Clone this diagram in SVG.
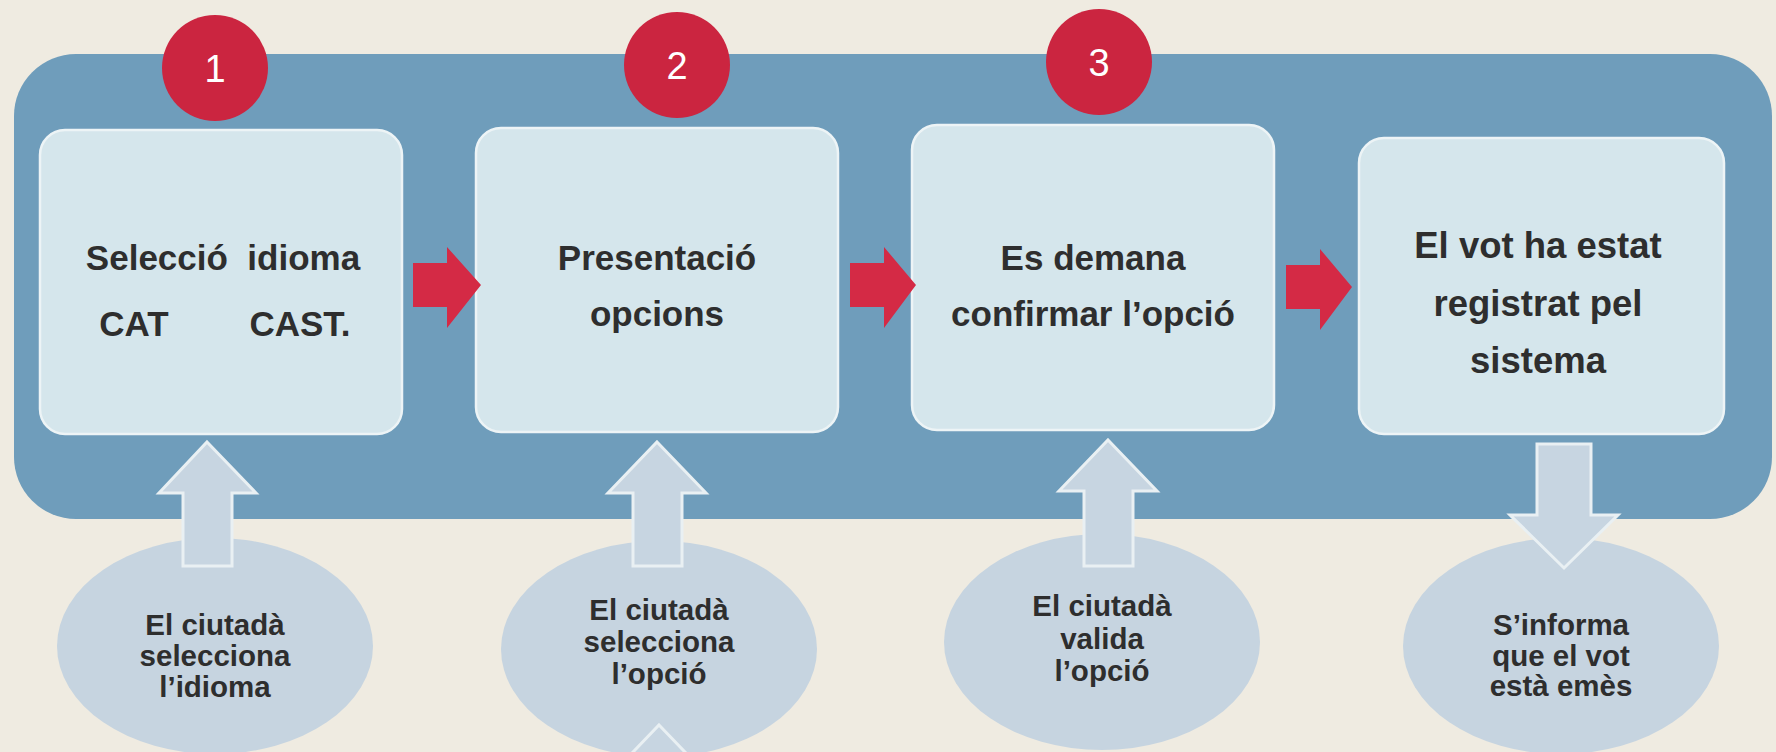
<svg xmlns="http://www.w3.org/2000/svg" width="1776" height="752" viewBox="0 0 1776 752">
<style>
.box{fill:#d5e6ec;stroke:#edf4f6;stroke-width:2.5}
.num{font-family:"Liberation Sans",Arial,sans-serif;font-size:38px;fill:#ffffff;text-anchor:middle}
.bt{font-family:"Liberation Sans",Arial,sans-serif;font-weight:bold;font-size:35px;fill:#2e2e2e;text-anchor:middle}
.bt4{font-size:36.5px}
.et{font-family:"Liberation Sans",Arial,sans-serif;font-weight:bold;font-size:29.5px;fill:#2e2e2e;text-anchor:middle}
.red{fill:#d42a45}
.circ{fill:#cb2540}
.ell{fill:#c6d4e0}
.la{fill:#c7d5e1;stroke:#e9f0f3;stroke-width:3;stroke-linejoin:miter}
</style>
<rect x="0" y="0" width="1776" height="752" fill="#efebe1"/>
<rect id="frame" x="14" y="54" width="1758" height="465" rx="62" ry="62" fill="#6f9dbb"/>

<g id="ellipse1"><ellipse class="ell" cx="215" cy="646" rx="158" ry="108"/>
<text class="et" x="215" y="635">El ciutadà</text><text class="et" x="215" y="666">selecciona</text><text class="et" x="215" y="697">l’idioma</text></g>
<g id="ellipse2"><ellipse class="ell" cx="659" cy="649" rx="158" ry="108"/>
<text class="et" x="659" y="620">El ciutadà</text><text class="et" x="659" y="652">selecciona</text><text class="et" x="659" y="684">l’opció</text></g>
<g id="ellipse3"><ellipse class="ell" cx="1102" cy="642" rx="158" ry="108"/>
<text class="et" x="1102" y="616">El ciutadà</text><text class="et" x="1102" y="649">valida</text><text class="et" x="1102" y="681">l’opció</text></g>
<g id="ellipse4"><ellipse class="ell" cx="1561" cy="646" rx="158" ry="108"/>
<text class="et" x="1561" y="635">S’informa</text><text class="et" x="1561" y="666">que el vot</text><text class="et" x="1561" y="696">està emès</text></g>

<g id="box1"><rect class="box" x="40" y="130" width="362" height="304" rx="25"/>
<text class="bt" x="223" y="270" xml:space="preserve">Selecció  idioma</text>
<text class="bt" x="134" y="336" font-size="37">CAT</text><text class="bt" x="300" y="336" font-size="37">CAST.</text></g>
<g id="box2"><rect class="box" x="476" y="128" width="362" height="304" rx="25"/>
<text class="bt" x="657" y="270">Presentació</text><text class="bt" x="657" y="326">opcions</text></g>
<g id="box3"><rect class="box" x="912" y="125" width="362" height="305" rx="25"/>
<text class="bt" x="1093" y="270">Es demana</text><text class="bt" x="1093" y="326">confirmar l’opció</text></g>
<g id="box4"><rect class="box" x="1359" y="138" width="365" height="296" rx="25"/>
<text class="bt bt4" x="1538" y="258">El vot ha estat</text><text class="bt bt4" x="1538" y="316">registrat pel</text><text class="bt bt4" x="1538" y="373">sistema</text></g>

<g id="step1"><circle class="circ" cx="215" cy="68" r="53"/><text class="num" x="215" y="82">1</text></g>
<g id="step2"><circle class="circ" cx="677" cy="65" r="53"/><text class="num" x="677" y="79">2</text></g>
<g id="step3"><circle class="circ" cx="1099" cy="62" r="53"/><text class="num" x="1099" y="76">3</text></g>

<g id="connectors">
<polygon class="red" points="413,263 447,263 447,247 481,285 447,328 447,307 413,307"/>
<polygon class="red" points="850,263 884,263 884,247 916,285 884,328 884,307 850,307"/>
<polygon class="red" points="1286,265 1320,265 1320,249 1352,287 1320,330 1320,309 1286,309"/>
<polygon class="la" points="207,442 256,493 232,493 232,566 183,566 183,493 159,493"/>
<polygon class="la" points="657,442 706,493 682,493 682,566 633,566 633,493 608,493"/>
<polygon class="la" points="1108,440 1157,491 1133,491 1133,566 1084,566 1084,491 1059,491"/>
<polygon class="la" points="1537,444 1591,444 1591,515 1618,515 1564,568 1510,515 1537,515"/>
<polygon class="la" points="659,725 708,776 684,776 684,860 634,860 634,776 610,776"/>
</g>
</svg>
